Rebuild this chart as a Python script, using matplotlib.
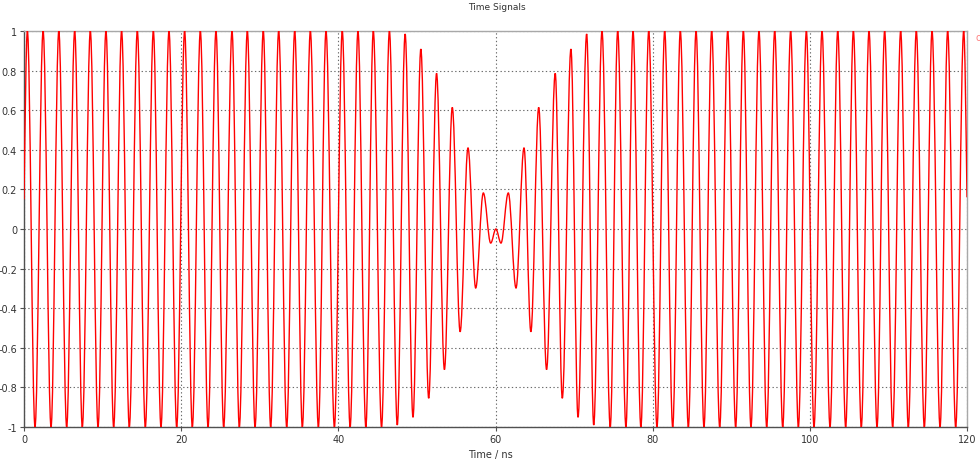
import matplotlib
matplotlib.use("Agg")
import matplotlib.pyplot as plt
from matplotlib.path import Path
from matplotlib.patches import PathPatch

# ---- data (extrema of the time signal) ----
peak_times = [0.43, 2.43, 4.43, 6.45, 8.44, 10.43, 12.42, 14.42, 16.46, 18.45,
              20.44, 22.44, 24.43, 26.47, 28.42, 30.45, 32.41, 34.45, 36.44, 38.43,
              40.5, 42.5, 44.45, 46.5, 48.5, 50.5, 52.5, 54.5, 56.5, 58.45,
              60.05,
              61.63, 63.63, 65.5, 67.6, 69.6, 71.6, 73.55, 75.55, 77.5, 79.5,
              81.53, 83.52, 85.52, 87.51, 89.55, 91.54, 93.53, 95.53, 97.56, 99.56,
              101.55, 103.55, 105.54, 107.53, 109.52, 111.56, 113.55, 115.55, 117.54, 119.58]
peak_values = [1.0, 1.0, 1.0, 1.0, 1.0, 1.0, 1.0, 1.0, 1.0, 1.0,
               1.0, 1.0, 1.0, 1.0, 1.0, 1.0, 1.0, 1.0, 1.0, 1.0,
               1.0, 1.0, 1.0, 1.0, 0.985, 0.909, 0.786, 0.614, 0.41, 0.182,
               0.0,
               0.182, 0.41, 0.614, 0.786, 0.909, 0.985, 1.0, 1.0, 1.0, 1.0,
               1.0, 1.0, 1.0, 1.0, 1.0, 1.0, 1.0, 1.0, 1.0, 1.0,
               1.0, 1.0, 1.0, 1.0, 1.0, 1.0, 1.0, 1.0, 1.0, 1.0]
trough_times = [1.40, 3.44, 5.43, 7.42, 9.42, 11.41, 13.40, 15.44, 17.43, 19.43,
                21.42, 23.42, 25.41, 27.40, 29.40, 31.39, 33.43, 35.42, 37.46, 39.5,
                41.5, 43.5, 45.5, 47.5, 49.5, 51.5, 53.5, 55.5, 57.48, 59.39,
                60.70, 62.61, 64.5, 66.5, 68.5, 70.5, 72.5, 74.6, 76.6, 78.5,
                80.55, 82.55, 84.54, 86.53, 88.53, 90.56, 92.51, 94.51, 96.55, 98.54,
                100.53, 102.57, 104.56, 106.55, 108.55, 110.54, 112.53, 114.57, 116.57, 118.56]
trough_values = [-1.0, -1.0, -1.0, -1.0, -1.0, -1.0, -1.0, -1.0, -1.0, -1.0,
                 -1.0, -1.0, -1.0, -1.0, -1.0, -1.0, -1.0, -1.0, -1.0, -1.0,
                 -1.0, -1.0, -1.0, -0.99, -0.951, -0.855, -0.71, -0.519, -0.298, -0.071,
                 -0.071, -0.298, -0.519, -0.71, -0.855, -0.951, -0.99, -1.0, -1.0, -1.0,
                 -1.0, -1.0, -1.0, -1.0, -1.0, -1.0, -1.0, -1.0, -1.0, -1.0,
                 -1.0, -1.0, -1.0, -1.0, -1.0, -1.0, -1.0, -1.0, -1.0, -1.0]
start_point = (0.0, 0.15)
end_point = (120.0, 0.16)

x_ticks = [0, 20, 40, 60, 80, 100, 120]
y_ticks = [-1, -0.8, -0.6, -0.4, -0.2, 0, 0.2, 0.4, 0.6, 0.8, 1]
y_tick_labels = ["-1", "-0.8", "-0.6", "-0.4", "-0.2", "0", "0.2", "0.4", "0.6", "0.8", "1"]
title = "Time Signals"
xlabel = "Time / ns"

# ---- figure ----
fig = plt.figure(figsize=(9.8, 4.64), dpi=100)
ax = fig.add_axes([24 / 980, 1 - 428 / 464, (967 - 24) / 980, (428 - 32) / 464])

# merge extrema in time order
pts = sorted(list(zip(peak_times, peak_values)) + list(zip(trough_times, trough_values)))
pts = [start_point] + pts + [end_point]

a = 0.36
verts = [pts[0]]
codes = [Path.MOVETO]
n = len(pts)
for i in range(n - 1):
    t0, v0 = pts[i]
    t1, v1 = pts[i + 1]
    dt = t1 - t0
    if i == 0:
        c1 = (t0 + 0.33 * dt, v0 + 0.45 * (v1 - v0))
    else:
        c1 = (t0 + a * dt, v0)
    if i == n - 2:
        c2 = (t1 - 0.33 * dt, v1 + 0.45 * (v0 - v1))
    else:
        c2 = (t1 - a * dt, v1)
    verts += [c1, c2, (t1, v1)]
    codes += [Path.CURVE4, Path.CURVE4, Path.CURVE4]

patch = PathPatch(Path(verts, codes), fill=False, edgecolor="#ff0000", lw=1.0,
                  zorder=3, clip_on=True)
ax.add_patch(patch)

ax.set_xlim(0, 120)
ax.set_ylim(-1, 1)
ax.set_xticks(x_ticks)
ax.set_xticklabels([str(v) for v in x_ticks])
ax.set_yticks(y_ticks)
ax.set_yticklabels(y_tick_labels)

ax.grid(True, color="#6a6a6a", linestyle=(0, (1.2, 2.2)), linewidth=0.8, zorder=1)
ax.set_axisbelow(True)

for side in ["left", "bottom"]:
    ax.spines[side].set_color("#505050")
    ax.spines[side].set_linewidth(1.0)
for side in ["top", "right"]:
    ax.spines[side].set_color("#a8a8a8")
    ax.spines[side].set_linewidth(1.0)

ax.tick_params(axis="both", direction="out", length=3, width=0.8, color="#505050",
               labelsize=7, labelcolor="#333333", pad=2)

fig.text(497 / 980, 1 - 8 / 464, title, ha="center", va="center", fontsize=6.5, color="#333333")
fig.text(490 / 980, 1 - 455 / 464, xlabel, ha="center", va="center", fontsize=7, color="#333333")
fig.text(975 / 980, 1 - 38 / 464, "o", ha="left", va="center", fontsize=7, color="#ff8080")

fig.savefig("out.png", dpi=100)
